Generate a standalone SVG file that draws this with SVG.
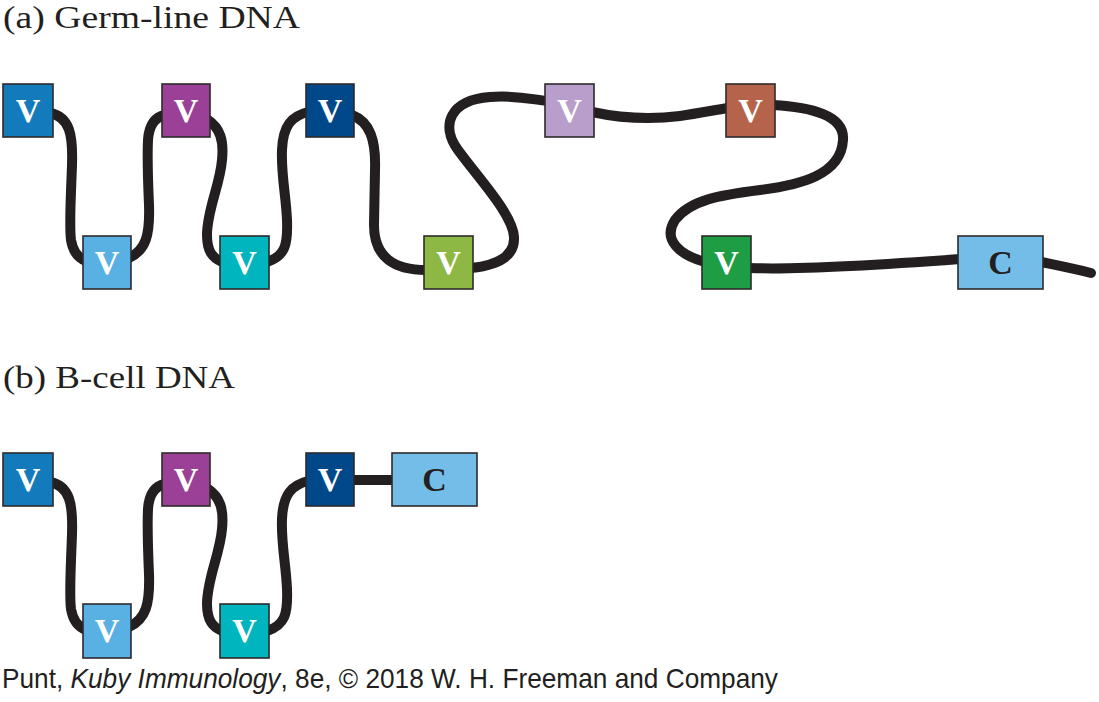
<svg xmlns="http://www.w3.org/2000/svg" width="1099" height="702" viewBox="0 0 1099 702">
<style>
.dna{fill:none;stroke:#231f20;stroke-width:10;stroke-linecap:round;stroke-linejoin:round}
.box{stroke:#2d2a2b;stroke-width:1.6}
.v{font-family:"Liberation Serif",serif;font-weight:bold;font-size:34px;fill:#fff;text-anchor:middle}
.c{font-family:"Liberation Serif",serif;font-weight:bold;font-size:34px;fill:#231f20;text-anchor:middle}
.title{font-family:"Liberation Serif",serif;font-size:32px;fill:#231f20}
.credit{font-family:"Liberation Sans",sans-serif;font-size:28px;fill:#231f20}
</style>
<rect width="1099" height="702" fill="#fff"/>
<text class="title" x="3" y="28" textLength="297" lengthAdjust="spacingAndGlyphs">(a) Germ-line DNA</text>
<text class="title" x="3" y="388" textLength="232" lengthAdjust="spacingAndGlyphs">(b) B-cell DNA</text>
<g id="connectors">
<path class="dna" d="M50,113 C70,117 73,135 72,165 C71,195 69,225 71,240 C73,252 78,258 86,261"/>
<path class="dna" d="M129,258 C146,250 150,235 149,205 C148,180 147,160 148,140 C149,125 155,117 165,115"/>
<path class="dna" d="M208,120 C220,128 224,140 222,160 C220,185 207,210 207,235 C207,252 213,258 222,262"/>
<path class="dna" d="M267,262 C285,256 288,245 287,220 C286,195 281,175 282,150 C283,125 292,116 308,112"/>
<path class="dna" d="M352,115 C370,122 376,140 375,170 L374,225 C374,258 395,270 426,270"/>
<path class="dna" d="M471,268 C500,265 515,255 514,237 C513,215 480,180 458,150 C440,125 450,100 490,97 C515,95 530,99 547,101"/>
<path class="dna" d="M592,112 C620,118 650,120 680,116 C700,113 715,110 728,108"/>
<path class="dna" d="M773,105 C810,107 845,115 843,140 C841,175 800,185 760,190 C720,195 690,200 675,220 C662,240 680,255 705,262"/>
<path class="dna" d="M749,268 C800,270 880,265 960,259"/>
<path class="dna" d="M1041,262 C1060,266 1075,269 1091,273"/>
<path class="dna" d="M50,482 C70,486 73,504 72,534 C71,564 69,594 71,609 C73,621 78,627 86,630"/>
<path class="dna" d="M129,627 C146,619 150,604 149,574 C148,549 147,529 148,509 C149,494 155,486 165,484"/>
<path class="dna" d="M208,489 C220,497 224,509 222,529 C220,554 207,579 207,604 C207,621 213,627 222,631"/>
<path class="dna" d="M267,631 C285,625 288,614 287,589 C286,564 281,544 282,519 C283,494 292,485 308,481"/>
<path class="dna" d="M352,480 L394,480"/>
</g>
<g id="a-v1"><rect class="box" x="3" y="84" width="50" height="53" fill="#137abb"/><text class="v" x="28" y="122">V</text></g>
<g id="a-v2"><rect class="box" x="83" y="236" width="48" height="53" fill="#58b0e3"/><text class="v" x="107" y="274">V</text></g>
<g id="a-v3"><rect class="box" x="162" y="84" width="48" height="53" fill="#9a4096"/><text class="v" x="186" y="122">V</text></g>
<g id="a-v4"><rect class="box" x="220" y="236" width="49" height="53" fill="#00b5bd"/><text class="v" x="244.5" y="274">V</text></g>
<g id="a-v5"><rect class="box" x="306" y="84" width="48" height="53" fill="#00488a"/><text class="v" x="330" y="122">V</text></g>
<g id="a-v6"><rect class="box" x="424" y="236" width="49" height="53" fill="#8db843"/><text class="v" x="448.5" y="274">V</text></g>
<g id="a-v7"><rect class="box" x="545" y="84" width="49" height="53" fill="#b99dcb"/><text class="v" x="569.5" y="122">V</text></g>
<g id="a-v8"><rect class="box" x="726" y="84" width="49" height="53" fill="#b5644b"/><text class="v" x="750.5" y="122">V</text></g>
<g id="a-v9"><rect class="box" x="702" y="236" width="49" height="53" fill="#1f9d44"/><text class="v" x="726.5" y="274">V</text></g>
<g id="a-c"><rect class="box" x="958" y="236" width="85" height="53" fill="#74bde8"/><text class="c" x="1000.5" y="274">C</text></g>
<g id="b-v1"><rect class="box" x="3" y="453" width="50" height="53" fill="#137abb"/><text class="v" x="28" y="491">V</text></g>
<g id="b-v2"><rect class="box" x="83" y="604" width="48" height="54" fill="#58b0e3"/><text class="v" x="107" y="642">V</text></g>
<g id="b-v3"><rect class="box" x="162" y="453" width="48" height="53" fill="#9a4096"/><text class="v" x="186" y="491">V</text></g>
<g id="b-v4"><rect class="box" x="220" y="604" width="49" height="54" fill="#00b5bd"/><text class="v" x="244.5" y="642">V</text></g>
<g id="b-v5"><rect class="box" x="306" y="453" width="48" height="53" fill="#00488a"/><text class="v" x="330" y="491">V</text></g>
<g id="b-c"><rect class="box" x="392" y="453" width="85" height="53" fill="#74bde8"/><text class="c" x="434.5" y="491">C</text></g>
<text class="credit" x="2" y="688" textLength="776" lengthAdjust="spacingAndGlyphs">Punt, <tspan font-style="italic">Kuby Immunology</tspan>, 8e, © 2018 W. H. Freeman and Company</text>
</svg>
